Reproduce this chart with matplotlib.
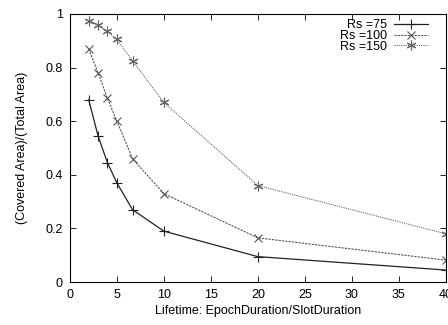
import matplotlib
matplotlib.use("Agg")
import matplotlib.pyplot as plt

plt.rcParams['font.family'] = ['Liberation Sans', 'DejaVu Sans']

x = [2, 3, 4, 5, 6.67, 10, 20, 40]
rs75 = [0.68, 0.545, 0.445, 0.37, 0.27, 0.19, 0.095, 0.045]
rs100 = [0.87, 0.78, 0.685, 0.60, 0.46, 0.33, 0.165, 0.082]
rs150 = [0.975, 0.96, 0.935, 0.905, 0.825, 0.67, 0.36, 0.18]
labels = ['Rs =75', 'Rs =100', 'Rs =150']

fig = plt.figure(figsize=(4.48, 3.25), dpi=100)
ax = fig.add_axes([0.156, 0.132, 0.839, 0.825])

ax.plot(x, rs75, color='#222222', lw=0.9, marker='+', ms=7, mew=0.8, label=labels[0])
ax.plot(x, rs100, color='#555555', lw=0.8, ls=(0, (2, 1)), marker='x', ms=6, mew=0.8, label=labels[1])
ax.plot(x, rs150, color='#666666', lw=0.8, ls=(0, (1, 1)), marker=(6, 2, 0), ms=7, mew=0.8, label=labels[2])

ax.set_xlim(0, 40)
ax.set_ylim(0, 1)
ax.set_xticks(range(0, 41, 5))
ax.set_yticks([0, 0.2, 0.4, 0.6, 0.8, 1])
ax.set_yticklabels(['0', '0.2', '0.4', '0.6', '0.8', '1'])
ax.tick_params(direction='in', top=True, right=True, labelsize=9, length=4, width=0.6, pad=5)
for s in ax.spines.values():
    s.set_linewidth(0.8)

ax.set_xlabel('Lifetime: EpochDuration/SlotDuration', fontsize=9, labelpad=3)
ax.set_ylabel('(Covered Area)/(Total Area)', fontsize=9, labelpad=13)

leg = ax.legend(loc='upper right', bbox_to_anchor=(0.952, 0.98), frameon=False,
                markerfirst=False, fontsize=9, handlelength=2.7, labelspacing=-0.1,
                borderaxespad=0, borderpad=0, handletextpad=0.55)
for t in leg.get_texts():
    t.set_ha('right')

fig.savefig('out.png', dpi=100)
